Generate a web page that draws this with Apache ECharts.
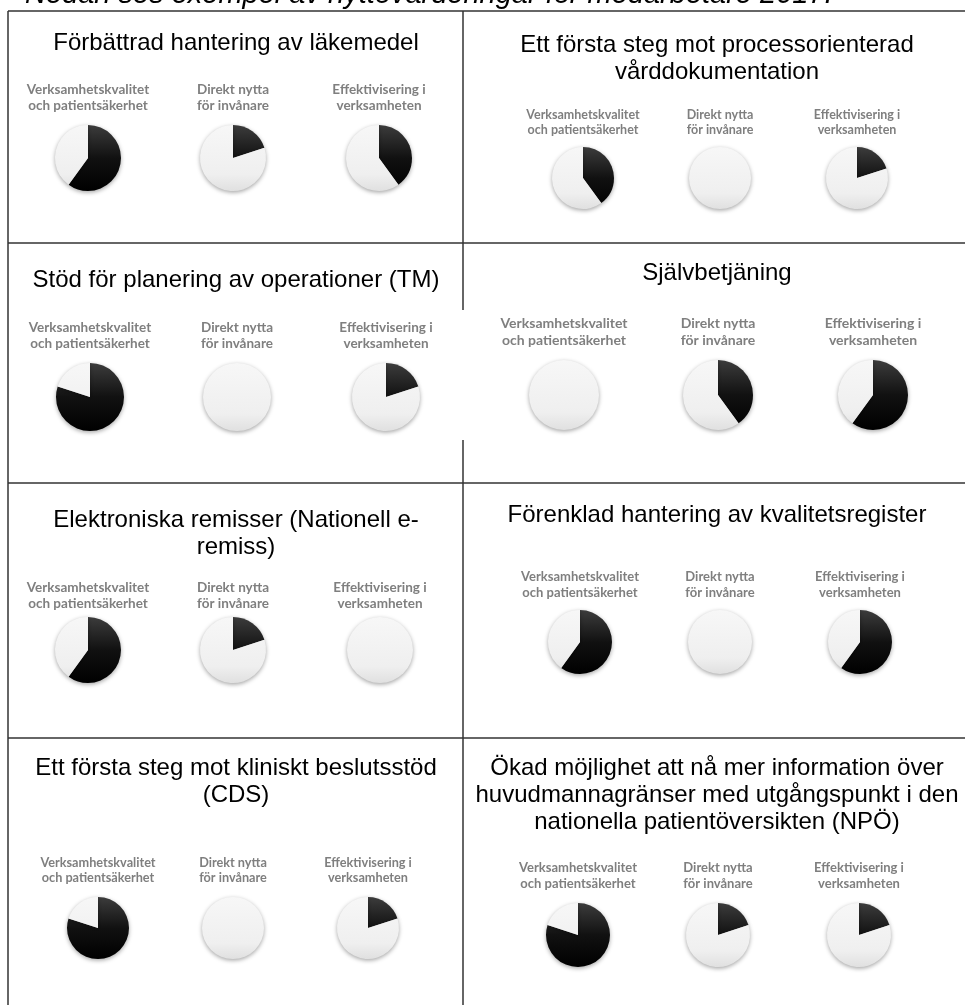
<!DOCTYPE html>
<html>
<head>
<meta charset="utf-8">
<script src="https://cdn.jsdelivr.net/npm/echarts@6/dist/echarts.min.js"></script>
<style>
html,body{margin:0;padding:0;background:#fff;}
#chart{width:965px;height:1005px;}
</style>
</head>
<body>
<div id="chart"></div>
<script>
// ---------- data ----------
const heading = "Nedan ses exempel av nyttovärderingar för medarbetare 2017.";
const panelTitles = [
  "Förbättrad hantering av läkemedel",
  "Ett första steg mot processorienterad\nvårddokumentation",
  "Stöd för planering av operationer (TM)",
  "Självbetjäning",
  "Elektroniska remisser (Nationell e-\nremiss)",
  "Förenklad hantering av kvalitetsregister",
  "Ett första steg mot kliniskt beslutsstöd\n(CDS)",
  "Ökad möjlighet att nå mer information över\nhuvudmannagränser med utgångspunkt i den\nnationella patientöversikten (NPÖ)"
];
const criteria = [
  "Verksamhetskvalitet\noch patientsäkerhet",
  "Direkt nytta\nför invånare",
  "Effektivisering i\nverksamheten"
];
const scaleMax = 5;
// benefit ratings (0-5) per panel
const qualityValues    = [3, 2, 4, 0, 3, 3, 4, 4];
const citizenValues    = [1, 0, 0, 2, 1, 0, 0, 1];
const efficiencyValues = [2, 1, 1, 3, 0, 3, 1, 1];

// ---------- layout (positions only) ----------
const layout = [
  {titleY: 43,  labelY: 90,  pieY: 158, xs: [88, 233, 379], r: 33, fs: 13.5},
  {titleY: 45,  labelY: 115, pieY: 178, xs: [583, 720, 857], r: 31, fs: 12.5},
  {titleY: 280, labelY: 328, pieY: 397, xs: [90, 237, 386], r: 34, fs: 13.5},
  {titleY: 273, labelY: 323, pieY: 395, xs: [564, 718, 873], r: 35, fs: 14},
  {titleY: 520, labelY: 588, pieY: 650, xs: [88, 233, 380], r: 33, fs: 13.5},
  {titleY: 515, labelY: 577, pieY: 642, xs: [580, 720, 860], r: 32, fs: 13},
  {titleY: 768, labelY: 863, pieY: 928, xs: [98, 233, 368], r: 31, fs: 12.7},
  {titleY: 768, labelY: 868, pieY: 935, xs: [578, 718, 859], r: 32, fs: 13}
];
const colCenters = [236, 717];
const titleLH = 27;

const chart = echarts.init(document.getElementById('chart'), null, {renderer: 'canvas'});

const graphics = [];
const lineStyle = {stroke: '#333', lineWidth: 1.5};
// table grid
graphics.push({type: 'line', shape: {x1: 8, y1: 11, x2: 965, y2: 11}, style: lineStyle});
[243, 483, 738].forEach(y => graphics.push({type: 'line', shape: {x1: 8, y1: y, x2: 965, y2: y}, style: lineStyle}));
graphics.push({type: 'line', shape: {x1: 8, y1: 11, x2: 8, y2: 1005}, style: lineStyle});
graphics.push({type: 'line', shape: {x1: 463, y1: 11, x2: 463, y2: 310}, style: lineStyle});
graphics.push({type: 'line', shape: {x1: 463, y1: 440, x2: 463, y2: 1005}, style: lineStyle});

// heading (cut at top)
graphics.push({type: 'text', x: 25, y: 9, style: {
  text: heading, font: 'italic 29px "Liberation Sans", Arial, sans-serif',
  fill: '#000', textAlign: 'left', textVerticalAlign: 'bottom'
}});

const series = [];
const valueSets = [qualityValues, citizenValues, efficiencyValues];
panelTitles.forEach((t, i) => {
  const L = layout[i];
  const col = i % 2;
  const nLines = t.split('\n').length;
  graphics.push({type: 'text', x: colCenters[col], y: L.titleY + (nLines - 1) * titleLH / 2, style: {
    text: t, font: '24px "Liberation Sans", Arial, sans-serif', lineHeight: titleLH,
    fill: '#000', textAlign: 'center', textVerticalAlign: 'middle'
  }});
  const labelLH = Math.round(L.fs * 1.2);
  for (let k = 0; k < 3; k++) {
    graphics.push({type: 'text', x: L.xs[k], y: L.labelY + labelLH / 2, style: {
      text: criteria[k], font: 'bold ' + L.fs + 'px Lato, "Open Sans", sans-serif', lineHeight: labelLH,
      fill: '#7f7f7f', textAlign: 'center', textVerticalAlign: 'middle'
    }});
    const v = valueSets[k][i];
    const cy = L.pieY, r = L.r;
    const dark = new echarts.graphic.LinearGradient(0, cy - r, 0, cy + r, [
      {offset: 0, color: '#3c3c3c'}, {offset: 0.5, color: '#111'}, {offset: 1, color: '#000'}
    ], true);
    const light = new echarts.graphic.LinearGradient(0, cy - r, 0, cy + r, [
      {offset: 0, color: '#f7f7f7'}, {offset: 0.75, color: '#efefef'}, {offset: 1, color: '#e0e0e0'}
    ], true);
    series.push({
      type: 'pie',
      center: [L.xs[k], cy],
      radius: [0, r],
      startAngle: 90,
      clockwise: true,
      silent: true,
      animation: false,
      label: {show: false},
      labelLine: {show: false},
      itemStyle: {borderWidth: 0, shadowBlur: 4, shadowColor: 'rgba(0,0,0,0.35)', shadowOffsetY: 1.5},
      data: [
        {name: criteria[k], value: v, itemStyle: {color: dark}},
        {name: 'rest', value: scaleMax - v, itemStyle: {color: light}}
      ]
    });
  }
});

chart.setOption({
  backgroundColor: '#fff',
  animation: false,
  series: series,
  graphic: {elements: graphics}
});
</script>
</body>
</html>
